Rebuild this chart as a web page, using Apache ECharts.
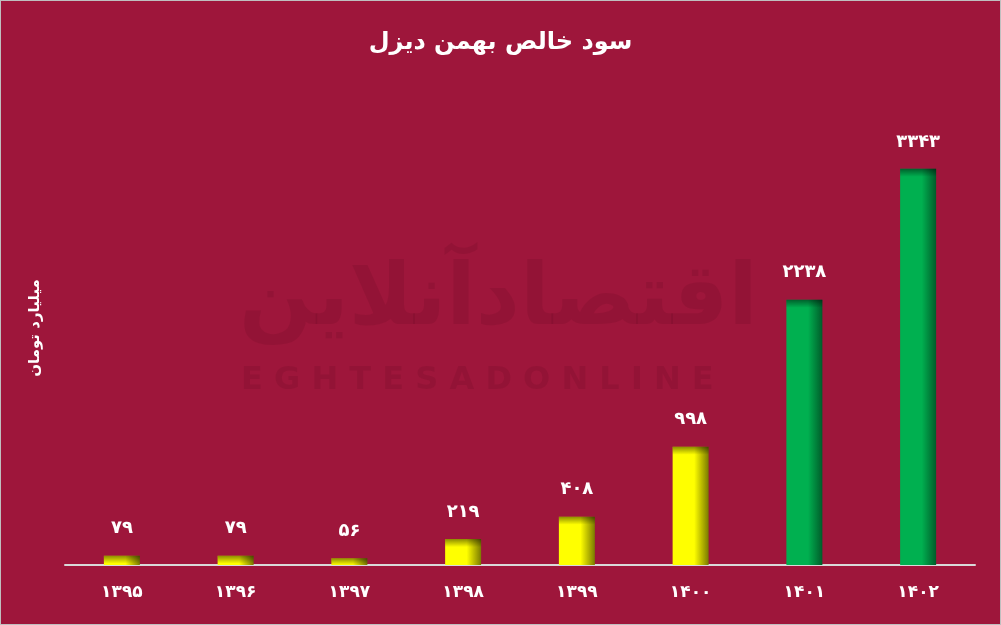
<!DOCTYPE html>
<html><head><meta charset="utf-8">
<script src="https://cdn.jsdelivr.net/npm/echarts@6/dist/echarts.min.js"></script>
<style>html,body{margin:0;padding:0;background:#9E163B;}#c{width:999px;height:623px;border:1px solid #bfbfbf;}</style>
</head><body><div id="c"></div>
<script>
var categories = ['1395','1396','1397','1398','1399','1400','1401','1402'];
var values = [79, 79, 56, 219, 408, 998, 2238, 3343];
var greenFrom = '1401';
var titleText = 'سود خالص بهمن دیزل';
var unitText = 'میلیارد تومان';

function fa(s){ return String(s).replace(/[0-9]/g, function(d){ return '۰۱۲۳۴۵۶۷۸۹'[+d]; }); }
function grad(main, dark){
  return {type:'linear',x:0,y:0,x2:1,y2:0,colorStops:[{offset:0,color:main},{offset:0.6,color:main},{offset:1,color:dark}]};
}
var gi = categories.indexOf(greenFrom);
var barData = values.map(function(v,i){
  return {value:v, itemStyle:{color: i>=gi ? grad('#00B050','#005C2A') : grad('#FFFF00','#7A7A00')}};
});
var FONT = 'DejaVu Sans';
var chart = echarts.init(document.getElementById('c'));
chart.setOption({
  backgroundColor:'#9E163B',
  title:{text:titleText,left:'center',top:25,textStyle:{color:'#fff',fontSize:24,fontWeight:'bold',fontFamily:FONT}},
  graphic:[
    {type:'text',left:238,top:258,silent:true,style:{text:'اقتصادآنلاین',fill:'rgba(60,0,15,0.11)',font:'bold 86px DejaVu Sans'}},
    {type:'text',left:240,top:364,silent:true,style:{text:'E G H T E S A D O N L I N E',fill:'rgba(60,0,15,0.11)',font:'bold 32px DejaVu Sans'}}
  ],
  grid:{left:64,right:25,top:90,bottom:59},
  xAxis:{type:'category',data:categories,
    axisLine:{lineStyle:{color:'#d9d9d9',width:2}},axisTick:{show:false},
    axisLabel:{color:'#fff',fontSize:17,fontWeight:'bold',fontFamily:FONT,margin:19,formatter:function(v){return fa(v);}}},
  yAxis:{type:'value',min:0,max:4000,
    name:unitText,nameLocation:'middle',nameGap:22,nameRotate:90,
    nameTextStyle:{color:'#fff',fontSize:15,fontWeight:'bold',fontFamily:FONT},
    axisLine:{show:false},axisTick:{show:false},axisLabel:{show:false},splitLine:{show:false}},
  series:[
    {type:'bar',data:barData,barWidth:36,z:2,
      label:{show:true,position:'top',distance:18,color:'#fff',fontSize:18,fontWeight:'bold',fontFamily:FONT,
        formatter:function(p){return fa(p.value);}}},
    {type:'custom',z:3,silent:true,data:values.map(function(v,i){return [i,v];}),
      renderItem:function(params,api){
        var top = api.coord([api.value(0), api.value(1)]);
        var base = api.coord([api.value(0), 0]);
        var h = Math.min(8, base[1]-top[1]);
        return {type:'rect',shape:{x:top[0]-18,y:top[1],width:36,height:h},
          style:{fill:{type:'linear',x:0,y:0,x2:0,y2:1,colorStops:[{offset:0,color:'rgba(0,0,0,0.45)'},{offset:1,color:'rgba(0,0,0,0)'}]}}};
      }}
  ]
});
</script></body></html>
